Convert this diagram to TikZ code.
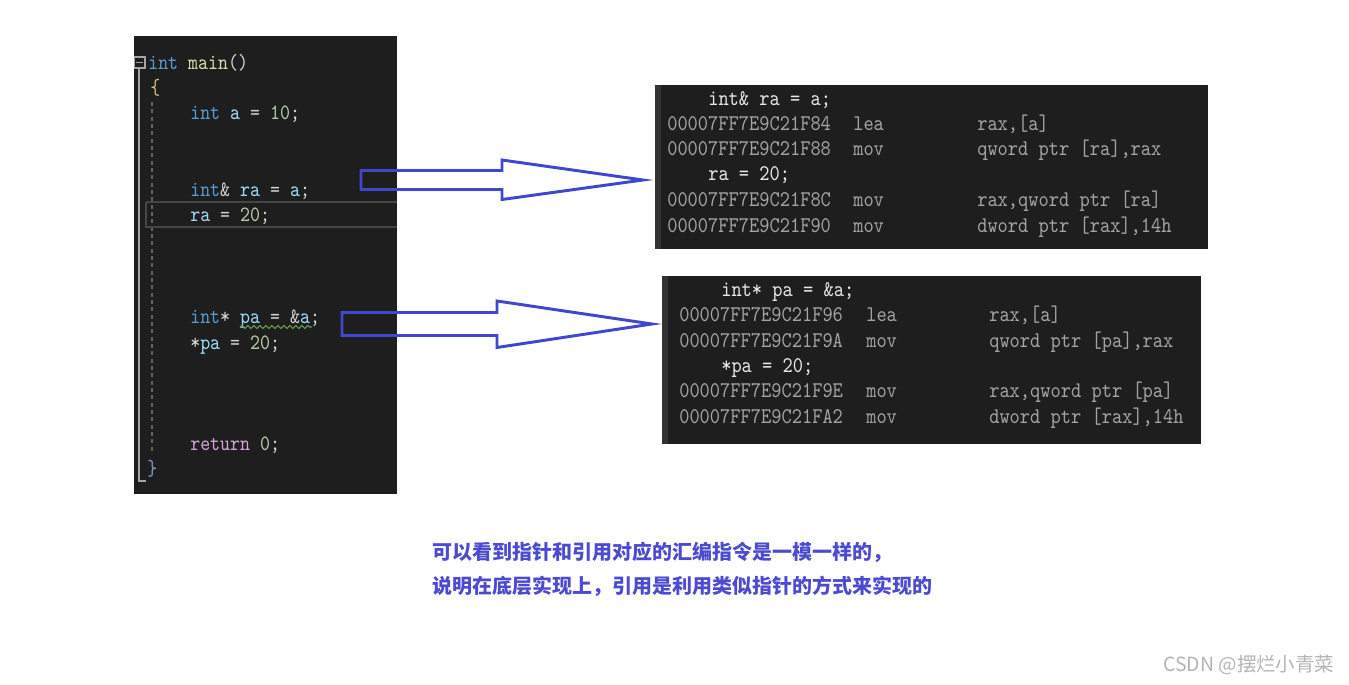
\documentclass[tikz,border=0pt]{standalone}
\usepackage{fontspec}
\newfontfamily\cjk{Noto Sans CJK SC}
\newfontfamily\codefont{lmmono10-regular}[Extension=.otf, FakeStretch=0.87]
\usetikzlibrary{decorations.pathmorphing}
\definecolor{panel}{HTML}{1E1E1E}
\definecolor{strip}{HTML}{333333}
\definecolor{kw}{HTML}{569CD6}
\definecolor{fn}{HTML}{DCDCAA}
\definecolor{var}{HTML}{9CDCFE}
\definecolor{num}{HTML}{B5CEA8}
\definecolor{pun}{HTML}{D4D4D4}
\definecolor{ret}{HTML}{D8A0DF}
\definecolor{bro}{HTML}{D7BA7D}
\definecolor{brc}{HTML}{7F9FC8}
\definecolor{src}{HTML}{E8E8E8}
\definecolor{asm}{HTML}{A4A4A4}
\definecolor{guide}{HTML}{A5A5A5}
\definecolor{hl}{HTML}{464646}
\definecolor{squig}{HTML}{6A9955}
\definecolor{arrowblue}{HTML}{3F48CC}
\definecolor{note}{HTML}{4B4BD2}
\definecolor{wm}{HTML}{B4B4B4}
\tikzset{
  code/.style={anchor=base west, inner sep=0pt, font=\codefont\fontsize{16.4}{18}\selectfont},
  asmtxt/.style={anchor=base west, inner sep=0pt, text=asm, font=\codefont\fontsize{16.8}{18}\selectfont},
  srctxt/.style={anchor=base west, inner sep=0pt, text=src, font=\codefont\fontsize{16.8}{18}\selectfont},
  blockarrow/.style={draw=arrowblue, line width=2.2pt, line join=miter, fill=none},
  notetxt/.style={anchor=west, inner sep=0pt, text=note, font=\cjk\bfseries\fontsize{15}{18}\selectfont},
}
\begin{document}
\begin{tikzpicture}[x=0.75pt,y=-0.75pt]
\useasboundingbox (0,0) rectangle (1349,685);
\fill[white] (0,0) rectangle (1349,685);

% ---------- left code panel ----------
\fill[panel] (134,36) rectangle (397,494);
% fold marker and guide lines
\draw[guide, line width=1.1pt] (134.5,57) rectangle (145,68);
\draw[guide, line width=1.1pt] (136,62.5) -- (143,62.5);
\draw[guide, line width=1.3pt] (139,68) -- (139,481) -- (146,481);
\draw[guide!60!black, line width=0.8pt, dash pattern=on 3pt off 2.5pt] (152,102) -- (152,454);
% current-line highlight
\draw[hl, line width=1.6pt] (146,202) -- (397,202) (146,202) -- (146,227) -- (397,227);

\node[code] (l1) at (148,69.5) {\color{kw}int \color{fn}main\color{pun}()};
\node[code] (l2) at (150,94) {\color{bro}\{};
\node[code] (l3) at (190,119) {\color{kw}int \color{var}a \color{pun}= \color{num}10\color{pun};};
\node[code] (l4) at (190,196) {\color{kw}int\color{pun}\& \color{var}ra \color{pun}= \color{var}a\color{pun};};
\node[code] (l5) at (190,221) {\color{var}ra \color{pun}= \color{num}20\color{pun};};
\node[code] (l6) at (190,323) {\color{kw}int\color{pun}* \color{var}pa \color{pun}= \&\color{var}a\color{pun};};
\node[code] (l7) at (190,349) {\color{pun}*\color{var}pa \color{pun}= \color{num}20\color{pun};};
\node[code] (l8) at (190,450) {\color{ret}return \color{num}0\color{pun};};
\node[code] (l9) at (147,475) {\color{brc}\}};
\draw[squig, line width=0.9pt, decorate, decoration={snake, amplitude=1.1pt, segment length=4.5pt}] (240,327) -- (312,327);

% ---------- arrows ----------
\draw[blockarrow] (361,170.5) -- (502,170.5) -- (502,160) -- (643,180) -- (502,199.5) -- (502,189.5) -- (361,189.5) -- cycle;
\draw[blockarrow] (342,312.5) -- (497,312.5) -- (497,301) -- (652,324) -- (497,347.5) -- (497,335.5) -- (342,335.5) -- cycle;

% ---------- assembly panel 1 ----------
\fill[panel] (655,85) rectangle (1208,249);
\fill[strip] (655,85) rectangle (661,249);
\node[srctxt] (a1s) at (708,105.5) {int\& ra = a;};
\node[asmtxt] (a1a) at (667,130.5) {00007FF7E9C21F84};
\node[asmtxt] (a1m) at (853,130.5) {lea};
\node[asmtxt] (a1o) at (977,130.5) {rax,[a]};
\node[asmtxt] (a2a) at (667,155.5) {00007FF7E9C21F88};
\node[asmtxt] (a2m) at (853,155.5) {mov};
\node[asmtxt] (a2o) at (977,155.5) {qword ptr [ra],rax};
\node[srctxt] (a2s) at (708,180.5) {ra = 20;};
\node[asmtxt] (a3a) at (667,206.5) {00007FF7E9C21F8C};
\node[asmtxt] (a3m) at (853,206.5) {mov};
\node[asmtxt] (a3o) at (977,206.5) {rax,qword ptr [ra]};
\node[asmtxt] (a4a) at (667,232.5) {00007FF7E9C21F90};
\node[asmtxt] (a4m) at (853,232.5) {mov};
\node[asmtxt] (a4o) at (977,232.5) {dword ptr [rax],14h};

% ---------- assembly panel 2 ----------
\fill[panel] (662,276) rectangle (1201,444);
\fill[strip] (662,276) rectangle (668,444);
\node[srctxt] (b1s) at (721,296.5) {int* pa = \&a;};
\node[asmtxt] (b1a) at (679,321.5) {00007FF7E9C21F96};
\node[asmtxt] (b1m) at (866,321.5) {lea};
\node[asmtxt] (b1o) at (989,321.5) {rax,[a]};
\node[asmtxt] (b2a) at (679,347.5) {00007FF7E9C21F9A};
\node[asmtxt] (b2m) at (866,347.5) {mov};
\node[asmtxt] (b2o) at (989,347.5) {qword ptr [pa],rax};
\node[srctxt] (b2s) at (721,372.5) {*pa = 20;};
\node[asmtxt] (b3a) at (679,397.5) {00007FF7E9C21F9E};
\node[asmtxt] (b3m) at (866,397.5) {mov};
\node[asmtxt] (b3o) at (989,397.5) {rax,qword ptr [pa]};
\node[asmtxt] (b4a) at (679,423.5) {00007FF7E9C21FA2};
\node[asmtxt] (b4m) at (866,423.5) {mov};
\node[asmtxt] (b4o) at (989,423.5) {dword ptr [rax],14h};

% ---------- note ----------
\node[notetxt] (n1) at (432,552) {可以看到指针和引用对应的汇编指令是一模一样的，};
\node[notetxt] (n2) at (432,586) {说明在底层实现上，引用是利用类似指针的方式来实现的};

% ---------- watermark ----------
\node[anchor=west, inner sep=0pt, text=wm, font=\cjk\fontsize{14.6}{17}\selectfont] (wm) at (1163,665) {CSDN @摆烂小青菜};
\end{tikzpicture}
\end{document}
